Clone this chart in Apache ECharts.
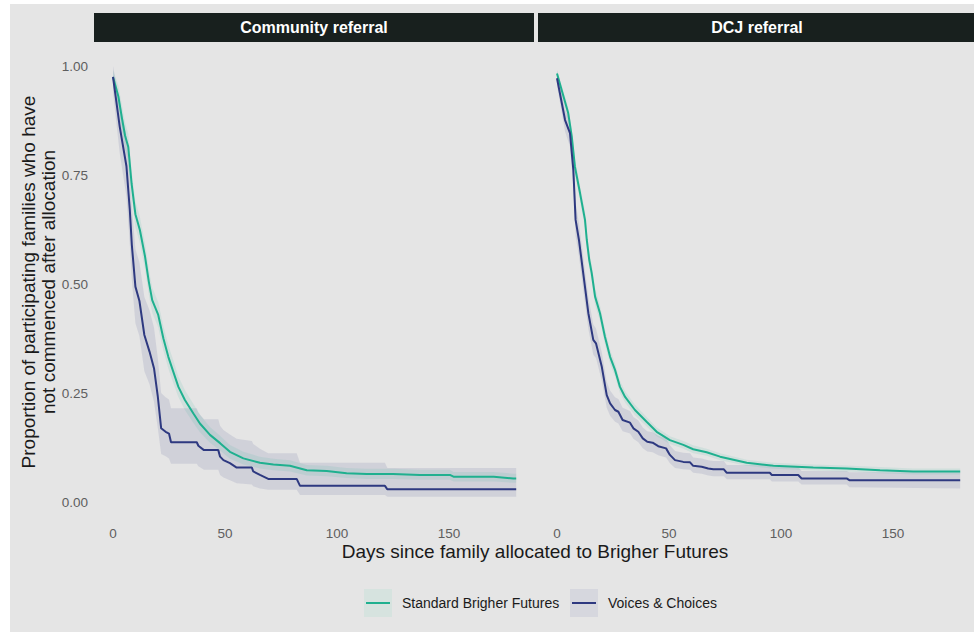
<!DOCTYPE html>
<html>
<head>
<meta charset="utf-8">
<script src="https://cdn.jsdelivr.net/npm/echarts@6/dist/echarts.min.js"></script>
<style>
html,body{margin:0;padding:0;background:#ffffff;}
#bg{position:absolute;left:10px;top:4px;width:964px;height:628px;background:#e5e5e5;}
#c{position:absolute;left:0;top:0;width:974px;height:632px;}
</style>
</head>
<body>
<div id="bg"></div>
<div id="c"></div>
<script>
// ---------- DATA ----------
const panelTitles = ['Community referral', 'DCJ referral'];
const seriesNames = ['Standard Brigher Futures', 'Voices & Choices'];
const yTitleLines = ['Proportion of participating families who have', 'not commenced after allocation'];
const xTitle = 'Days since family allocated to Brigher Futures';
const yTicks = [0, 0.25, 0.5, 0.75, 1];
const xTicks = [0, 50, 100, 150];

// Community referral – Standard Brigher Futures
const csDays = [0, 2.4, 4, 5.4, 6.8, 8.3, 10, 12, 14.3, 16, 17.5, 20.2, 22.5, 24.7, 26.9, 29.2, 32.1, 35.9, 38.8, 43.3, 47.8, 52.2, 58.2, 65.6, 71.6, 79, 86.5, 95.4, 104.3, 113.3, 125, 137, 150.4, 152, 170, 178.7, 180];
const csSurv = [0.975, 0.93, 0.88, 0.84, 0.815, 0.73, 0.66, 0.624, 0.563, 0.505, 0.463, 0.429, 0.375, 0.333, 0.299, 0.264, 0.234, 0.203, 0.180, 0.154, 0.135, 0.115, 0.100, 0.090, 0.086, 0.083, 0.073, 0.071, 0.066, 0.064, 0.064, 0.062, 0.062, 0.058, 0.058, 0.054, 0.054];
const csLo = [0.955, 0.905, 0.85, 0.81, 0.785, 0.70, 0.63, 0.594, 0.533, 0.475, 0.434, 0.400, 0.347, 0.306, 0.273, 0.240, 0.211, 0.181, 0.160, 0.136, 0.118, 0.099, 0.086, 0.077, 0.073, 0.070, 0.061, 0.059, 0.055, 0.053, 0.053, 0.051, 0.051, 0.047, 0.047, 0.044, 0.044];
const csHi = [0.99, 0.955, 0.91, 0.87, 0.845, 0.76, 0.69, 0.654, 0.593, 0.535, 0.492, 0.458, 0.403, 0.360, 0.325, 0.288, 0.257, 0.225, 0.200, 0.172, 0.152, 0.131, 0.115, 0.104, 0.099, 0.096, 0.085, 0.083, 0.078, 0.076, 0.076, 0.074, 0.074, 0.069, 0.069, 0.065, 0.065];

// Community referral – Voices & Choices
const cvDays = [0, 3, 6, 7.5, 8.4, 10, 11.8, 14, 16.3, 18.3, 20, 21.5, 23.5, 25, 25.9, 37.4, 38.1, 40.6, 47, 47.8, 49.3, 52.2, 55.2, 62, 62.6, 65.6, 69.3, 82, 83.5, 121.4, 122.5, 180];
const cvSurv = [0.975, 0.861, 0.77, 0.67, 0.59, 0.494, 0.461, 0.383, 0.345, 0.307, 0.242, 0.169, 0.161, 0.157, 0.137, 0.137, 0.129, 0.119, 0.119, 0.104, 0.096, 0.089, 0.079, 0.079, 0.070, 0.062, 0.053, 0.053, 0.037, 0.037, 0.029, 0.029];
const cvLo = [0.94, 0.80, 0.70, 0.59, 0.51, 0.41, 0.38, 0.30, 0.27, 0.23, 0.17, 0.11, 0.105, 0.10, 0.088, 0.088, 0.082, 0.074, 0.074, 0.062, 0.056, 0.05, 0.043, 0.040, 0.036, 0.031, 0.028, 0.028, 0.016, 0.016, 0.012, 0.012];
const cvHi = [1.0, 0.92, 0.84, 0.75, 0.68, 0.58, 0.55, 0.47, 0.44, 0.40, 0.33, 0.25, 0.24, 0.235, 0.215, 0.215, 0.205, 0.19, 0.19, 0.175, 0.165, 0.155, 0.145, 0.14, 0.133, 0.122, 0.112, 0.112, 0.09, 0.09, 0.078, 0.078];

// DCJ referral – Standard Brigher Futures
const dtDays = [0, 5, 6.6, 8, 10.3, 12.5, 13.3, 14.4, 15.5, 17, 19.2, 21.4, 23.7, 25.9, 28.1, 30.4, 34.8, 40, 44.5, 50.4, 56.4, 60.8, 66.8, 72.8, 84.7, 96.6, 114.4, 129.3, 144.2, 159, 180];
const dtSurv = [0.983, 0.892, 0.838, 0.769, 0.708, 0.647, 0.601, 0.555, 0.525, 0.471, 0.433, 0.379, 0.333, 0.303, 0.264, 0.241, 0.211, 0.184, 0.161, 0.142, 0.131, 0.121, 0.114, 0.104, 0.090, 0.083, 0.079, 0.077, 0.073, 0.070, 0.070];
const dtLo = [0.975, 0.878, 0.822, 0.752, 0.690, 0.628, 0.582, 0.536, 0.506, 0.452, 0.415, 0.362, 0.317, 0.288, 0.250, 0.228, 0.199, 0.173, 0.151, 0.133, 0.122, 0.112, 0.106, 0.096, 0.083, 0.076, 0.072, 0.070, 0.066, 0.063, 0.063];
const dtHi = [0.99, 0.906, 0.854, 0.786, 0.726, 0.666, 0.620, 0.574, 0.544, 0.490, 0.451, 0.396, 0.349, 0.318, 0.278, 0.254, 0.223, 0.195, 0.171, 0.151, 0.140, 0.130, 0.122, 0.112, 0.097, 0.090, 0.086, 0.084, 0.080, 0.077, 0.077];

// DCJ referral – Voices & Choices
const dvDays = [0, 3.6, 5.8, 7.3, 8.3, 9.8, 11.7, 14, 16.2, 17.4, 20, 22.2, 23.7, 25.9, 27.4, 29.3, 32.6, 34.1, 36.3, 38.3, 40.3, 42.7, 45.2, 48.7, 50.4, 52.7, 56.4, 59.4, 60.8, 64.6, 67.5, 69.8, 74.5, 75.8, 95, 95.9, 107.7, 109.2, 129.3, 130.5, 180];
const dvSurv = [0.972, 0.876, 0.846, 0.761, 0.647, 0.601, 0.525, 0.433, 0.372, 0.364, 0.310, 0.245, 0.226, 0.211, 0.207, 0.188, 0.182, 0.169, 0.161, 0.146, 0.138, 0.136, 0.128, 0.123, 0.108, 0.096, 0.092, 0.091, 0.083, 0.081, 0.077, 0.075, 0.075, 0.067, 0.067, 0.062, 0.062, 0.054, 0.054, 0.050, 0.050];
const dvLo = [0.955, 0.85, 0.815, 0.725, 0.61, 0.563, 0.487, 0.397, 0.338, 0.330, 0.278, 0.216, 0.198, 0.184, 0.180, 0.162, 0.157, 0.145, 0.137, 0.123, 0.116, 0.114, 0.107, 0.102, 0.089, 0.078, 0.075, 0.074, 0.067, 0.065, 0.061, 0.059, 0.059, 0.052, 0.052, 0.047, 0.047, 0.040, 0.040, 0.034, 0.031];
const dvHi = [0.99, 0.90, 0.875, 0.795, 0.685, 0.64, 0.563, 0.47, 0.407, 0.398, 0.343, 0.276, 0.256, 0.240, 0.236, 0.216, 0.209, 0.195, 0.187, 0.171, 0.162, 0.160, 0.152, 0.146, 0.130, 0.117, 0.113, 0.112, 0.102, 0.100, 0.096, 0.094, 0.094, 0.085, 0.085, 0.080, 0.080, 0.071, 0.071, 0.068, 0.068];

// ---------- STYLE ----------
const FONT = '"Liberation Sans", Arial, sans-serif';
const TEAL = '#1fb08f';
const NAVY = '#2e3980';
const TEAL_FILL = 'rgba(31,176,143,0.10)';
const NAVY_FILL = 'rgba(46,57,128,0.11)';
const GRID_TOP = 66, GRID_H = 436, GRID_W = 403.2;
const gridLefts = [113, 557];

function zip(a, b) { return a.map((v, i) => [v, b[i]]); }

function ribbon(idx, days, lo, hi, fill) {
  return {
    type: 'custom', xAxisIndex: idx, yAxisIndex: idx, silent: true, z: 1,
    data: [[0, 0]],
    renderItem: function (params, api) {
      const pts = [];
      for (let i = 0; i < days.length; i++) pts.push(api.coord([days[i], hi[i]]));
      for (let i = days.length - 1; i >= 0; i--) pts.push(api.coord([days[i], lo[i]]));
      return { type: 'polygon', shape: { points: pts }, style: { fill: fill } };
    }
  };
}
function line(idx, name, days, surv, color) {
  return {
    type: 'line', name: name, xAxisIndex: idx, yAxisIndex: idx, z: 3,
    data: zip(days, surv), showSymbol: false, symbol: 'none', smooth: false,
    lineStyle: { color: color, width: 2 }, itemStyle: { color: color }
  };
}

const chart = echarts.init(document.getElementById('c'), null, { renderer: 'svg' });

const grids = gridLefts.map(l => ({ left: l, top: GRID_TOP, width: GRID_W, height: GRID_H, containLabel: false, outerBoundsMode: 'none' }));
const xAxes = gridLefts.map((l, i) => ({
  type: 'value', gridIndex: i, min: 0, max: 180, interval: 50,
  axisLine: { show: false }, axisTick: { show: false }, splitLine: { show: false },
  axisLabel: {
    color: '#5e5e5e', fontSize: 13.5, fontFamily: FONT, margin: 24,
    showMaxLabel: false,
    formatter: v => (xTicks.indexOf(v) >= 0 ? String(v) : '')
  }
}));
const yAxes = gridLefts.map((l, i) => ({
  type: 'value', gridIndex: i, min: 0, max: 1, interval: 0.25,
  axisLine: { show: false }, axisTick: { show: false }, splitLine: { show: false },
  axisLabel: {
    show: i === 0, color: '#5e5e5e', fontSize: 13.5, fontFamily: FONT, margin: 25,
    formatter: v => (yTicks.indexOf(v) >= 0 ? v.toFixed(2) : '')
  }
}));

const stripY = 13, stripH = 29;
const graphic = [
  { type: 'rect', shape: { x: 94, y: stripY, width: 440, height: stripH }, style: { fill: '#18201e' } },
  { type: 'rect', shape: { x: 538, y: stripY, width: 440, height: stripH }, style: { fill: '#18201e' } },
  { type: 'text', x: 314, y: stripY + stripH / 2, style: { text: panelTitles[0], fill: '#ffffff', font: 'bold 16px ' + FONT, textAlign: 'center', textVerticalAlign: 'middle' } },
  { type: 'text', x: 757, y: stripY + stripH / 2, style: { text: panelTitles[1], fill: '#ffffff', font: 'bold 16px ' + FONT, textAlign: 'center', textVerticalAlign: 'middle' } },
  { type: 'text', x: 535, y: 551, style: { text: xTitle, fill: '#1a1a1a', font: '19px ' + FONT, textAlign: 'center', textVerticalAlign: 'middle' } },
  { type: 'text', x: 28, y: 282, rotation: Math.PI / 2, style: { text: yTitleLines[0], fill: '#1a1a1a', font: '19px ' + FONT, textAlign: 'center', textVerticalAlign: 'middle' } },
  { type: 'text', x: 48, y: 282, rotation: Math.PI / 2, style: { text: yTitleLines[1], fill: '#1a1a1a', font: '19px ' + FONT, textAlign: 'center', textVerticalAlign: 'middle' } },
  // legend
  { type: 'rect', shape: { x: 364, y: 589, width: 28, height: 28 }, style: { fill: '#d6e3df' } },
  { type: 'line', shape: { x1: 366, y1: 603, x2: 390, y2: 603 }, style: { stroke: TEAL, lineWidth: 2 } },
  { type: 'text', x: 402, y: 603, style: { text: seriesNames[0], fill: '#1a1a1a', font: '14px ' + FONT, textAlign: 'left', textVerticalAlign: 'middle' } },
  { type: 'rect', shape: { x: 570, y: 589, width: 28, height: 28 }, style: { fill: '#d6d7de' } },
  { type: 'line', shape: { x1: 572, y1: 603, x2: 596, y2: 603 }, style: { stroke: NAVY, lineWidth: 2 } },
  { type: 'text', x: 608, y: 603, style: { text: seriesNames[1], fill: '#1a1a1a', font: '14px ' + FONT, textAlign: 'left', textVerticalAlign: 'middle' } }
];

chart.setOption({
  backgroundColor: 'transparent',
  animation: false,
  textStyle: { fontFamily: FONT },
  grid: grids,
  xAxis: xAxes,
  yAxis: yAxes,
  graphic: graphic,
  series: [
    ribbon(0, cvDays, cvLo, cvHi, NAVY_FILL),
    ribbon(0, csDays, csLo, csHi, TEAL_FILL),
    ribbon(1, dvDays, dvLo, dvHi, NAVY_FILL),
    ribbon(1, dtDays, dtLo, dtHi, TEAL_FILL),
    line(0, seriesNames[0], csDays, csSurv, TEAL),
    line(0, seriesNames[1], cvDays, cvSurv, NAVY),
    line(1, seriesNames[0], dtDays, dtSurv, TEAL),
    line(1, seriesNames[1], dvDays, dvSurv, NAVY)
  ]
});
</script>
</body>
</html>
